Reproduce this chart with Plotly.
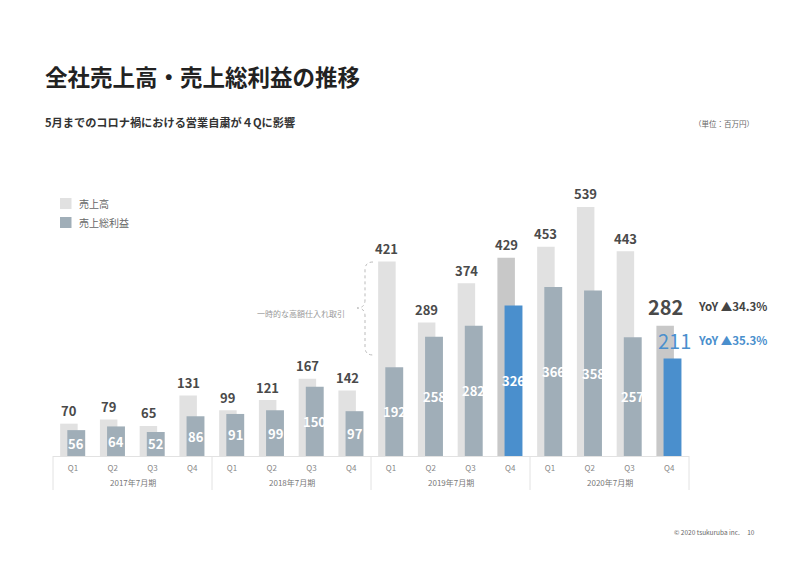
import plotly.graph_objects as go

# ---------------- data ----------------
quarters = ["Q1", "Q2", "Q3", "Q4"] * 4
fiscal_years = ["2017年7月期", "2018年7月期", "2019年7月期", "2020年7月期"]
sales = [70, 79, 65, 131, 99, 121, 167, 142, 421, 289, 374, 429, 453, 539, 443, 282]
gross_profit = [56, 64, 52, 86, 91, 99, 150, 97, 192, 258, 282, 326, 366, 358, 257, 211]
highlight = [False] * 11 + [True] + [False] * 3 + [True]

SALES_C = "#e1e1e1"
SALES_HI = "#c8c8c8"
GP_C = "#a0aeb8"
GP_HI = "#4a8fcd"
FONT = "Noto Sans CJK JP"

W, H = 800, 564
L, R, T, B = 53, 111, 100, 108
PW, PH = W - L - R, H - T - B
PX_PER_UNIT = 0.462
YMAX = PH / PX_PER_UNIT


def pxx(x):
    return (x - L) / PW


def pxy(y):
    return (H - B - y) / PH


n = len(sales)
xs = list(range(n))

fig = go.Figure()
fig.add_trace(go.Bar(
    x=xs, y=sales, width=0.44, offset=-0.32,
    marker=dict(color=[SALES_HI if h else SALES_C for h in highlight], line=dict(width=0)),
    name="売上高", hoverinfo="y",
))
fig.add_trace(go.Bar(
    x=xs, y=gross_profit, width=0.45, offset=-0.14,
    marker=dict(color=[GP_HI if h else GP_C for h in highlight], line=dict(width=0)),
    name="売上総利益", hoverinfo="y",
))

ann = []
shapes = []

# value labels
for i in range(n):
    sx = i - 0.32 + 0.22
    gx = i - 0.14 + 0.225
    last = i == n - 1
    ann.append(dict(
        x=sx, y=sales[i], xref="x", yref="y", text=f"<b>{sales[i]}</b>",
        showarrow=False, yanchor="middle", yshift=19 if last else 13,
        font=dict(family=FONT, size=20 if last else 13, color="#4a4a4a"),
    ))
    if last:
        ann.append(dict(
            x=gx + 0.05, y=gross_profit[i], xref="x", yref="y", text=f"{gross_profit[i]}",
            showarrow=False, yanchor="middle", yshift=18,
            font=dict(family=FONT, size=20, color=GP_HI),
        ))
    else:
        ann.append(dict(
            x=gx, y=gross_profit[i] / 2, xref="x", yref="y", text=f"<b>{gross_profit[i]}</b>",
            showarrow=False, yanchor="middle",
            font=dict(family=FONT, size=13, color="white"),
        ))

# fiscal year group labels and dividers
for k, fy in enumerate(fiscal_years):
    c = 4 * k + 1.5
    ann.append(dict(
        x=(c + 0.5) / n, y=pxy(483), xref="paper", yref="paper", text=fy,
        showarrow=False, yanchor="middle", xanchor="center",
        font=dict(family=FONT, size=8, color="#777"),
    ))
for b in [-0.5, 3.5, 7.5, 11.5, 15.5]:
    xp = (b + 0.5) / n
    shapes.append(dict(type="line", xref="paper", yref="paper", x0=xp, x1=xp,
                       y0=0, y1=pxy(490), line=dict(color="#e2e2e2", width=1)))

# legend
for j, (lbl, col) in enumerate([("売上高", SALES_C), ("売上総利益", GP_C)]):
    yc = 203.5 + j * 19
    shapes.append(dict(type="rect", xref="paper", yref="paper",
                       x0=pxx(60), x1=pxx(71.5), y0=pxy(yc - 5.5), y1=pxy(yc + 5.5),
                       fillcolor=col, line=dict(width=0)))
    ann.append(dict(x=pxx(77), y=pxy(yc), xref="paper", yref="paper", text=lbl,
                    showarrow=False, xanchor="left", yanchor="middle",
                    font=dict(family=FONT, size=10, color="#666")))

# brace + note
pts = [(373, 262), (365, 262), (365, 270), (365, 300), (365, 308), (357, 308),
       (365, 308), (365, 316), (365, 347), (365, 355), (373, 355)]
p = [(pxx(a), pxy(b)) for a, b in pts]
path = (f"M {p[0][0]},{p[0][1]} Q {p[1][0]},{p[1][1]} {p[2][0]},{p[2][1]} "
        f"L {p[3][0]},{p[3][1]} Q {p[4][0]},{p[4][1]} {p[5][0]},{p[5][1]} "
        f"Q {p[6][0]},{p[6][1]} {p[7][0]},{p[7][1]} L {p[8][0]},{p[8][1]} "
        f"Q {p[9][0]},{p[9][1]} {p[10][0]},{p[10][1]}")
shapes.append(dict(type="path", xref="paper", yref="paper", path=path,
                   line=dict(color="#bbbbbb", width=1, dash="dot")))
ann.append(dict(x=pxx(347), y=pxy(313.5), xref="paper", yref="paper", text="一時的な高額仕入れ取引",
                showarrow=False, xanchor="right", yanchor="middle",
                font=dict(family=FONT, size=8, color="#999")))

# YoY
ann.append(dict(x=pxx(696), y=pxy(306), xref="paper", yref="paper", text="<b>YoY ▲34.3%</b>",
                showarrow=False, xanchor="left", yanchor="middle",
                font=dict(family=FONT, size=11.5, color="#444")))
ann.append(dict(x=pxx(696), y=pxy(340), xref="paper", yref="paper", text="<b>YoY ▲35.3%</b>",
                showarrow=False, xanchor="left", yanchor="middle",
                font=dict(family=FONT, size=11.5, color=GP_HI)))

# titles & footer
ann.append(dict(x=pxx(43), y=pxy(76), xref="paper", yref="paper", text="<b>全社売上高・売上総利益の推移</b>",
                showarrow=False, xanchor="left", yanchor="middle",
                font=dict(family=FONT, size=22.5, color="#222")))
ann.append(dict(x=pxx(43), y=pxy(122), xref="paper", yref="paper",
                text="<b>5月までのコロナ禍における営業自粛が４Qに影響</b>",
                showarrow=False, xanchor="left", yanchor="middle",
                font=dict(family=FONT, size=11.2, color="#333")))
ann.append(dict(x=pxx(756), y=pxy(123), xref="paper", yref="paper", text="（単位：百万円）",
                showarrow=False, xanchor="right", yanchor="middle",
                font=dict(family=FONT, size=7.5, color="#666")))
ann.append(dict(x=pxx(757), y=pxy(532), xref="paper", yref="paper",
                text="© 2020 tsukuruba inc.&nbsp;&nbsp;&nbsp;&nbsp;&nbsp;10",
                showarrow=False, xanchor="right", yanchor="middle",
                font=dict(family=FONT, size=6.5, color="#666")))

fig.update_layout(
    width=W, height=H,
    margin=dict(l=L, r=R, t=T, b=B),
    paper_bgcolor="white", plot_bgcolor="white",
    barmode="overlay", showlegend=False,
    xaxis=dict(range=[-0.5, n - 0.5], tickvals=xs, ticktext=quarters,
               showgrid=False, zeroline=False, showline=True, linecolor="#e2e2e2",
               ticks="", ticklabelstandoff=4,
               tickfont=dict(family=FONT, size=8, color="#888"), fixedrange=True),
    yaxis=dict(range=[0, YMAX], visible=False, fixedrange=True),
    annotations=ann, shapes=shapes,
    font=dict(family=FONT),
)

fig.write_html("out.html", config={"displayModeBar": False},
               post_script="document.body.style.margin='0';document.body.style.overflow='hidden';")
